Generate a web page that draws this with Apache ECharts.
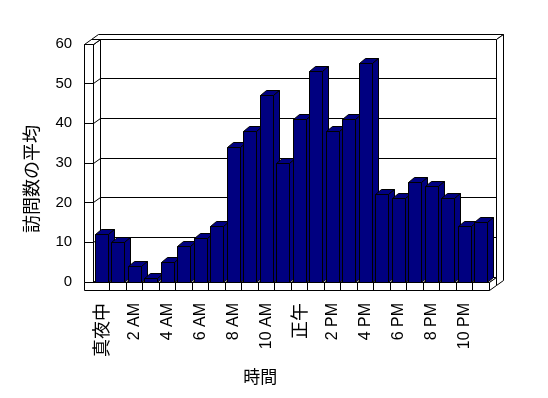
<!DOCTYPE html>
<html><head><meta charset="utf-8">
<script src="https://cdn.jsdelivr.net/npm/echarts@6/dist/echarts.min.js"></script>
<style>html,body{margin:0;padding:0;background:#fff}#c{width:548px;height:398px}</style>
</head><body><div id="c"></div>
<script>
const categories = ['真夜中','1 AM','2 AM','3 AM','4 AM','5 AM','6 AM','7 AM','8 AM','9 AM','10 AM','11 AM',
  '正午','1 PM','2 PM','3 PM','4 PM','5 PM','6 PM','7 PM','8 PM','9 PM','10 PM','11 PM'];
const visits = [12,10,4,1,5,9,11,14,34,38,47,30,41,53,38,41,55,22,21,25,24,21,14,15];
const yTicks = [0,10,20,30,40,50,60];
const yMin = 0, yMax = 60, yStep = 10;
const xTitle = '時間';
const yTitle = '訪問数の平均';

const DX = 7, DY = -5;      // plot depth
const BX = 7, BY = -5;      // back wall thickness
const WALL = 9, FLOOR = 8;  // left wall / floor thickness
const BDX = 6, BDY = -5;    // bar depth
const INK = '#000', BAR = '#000080';

const s = v => Math.round(v - 0.5) + 0.5;
function poly(pts, fill){ return {type:'polygon', shape:{points:pts.map(p=>[s(p[0]),s(p[1])])}, style:{fill:fill||'#fff', stroke:INK, lineWidth:1}}; }
function line(x1,y1,x2,y2){ return {type:'line', shape:{x1:s(x1),y1:s(y1),x2:s(x2),y2:s(y2)}, style:{stroke:INK, lineWidth:1}}; }

function renderBox(params, api){
  const cs = params.coordSys;
  const x0 = cs.x, x1 = cs.x + cs.width;
  const yTop = api.coord([0, yMax])[1], yBase = api.coord([0, yMin])[1];
  const bw = api.size([1,0])[0];
  const ch = [];
  // back wall front face
  ch.push(poly([[x0+DX,yTop+DY],[x1+DX,yTop+DY],[x1+DX,yBase+DY],[x0+DX,yBase+DY]]));
  yTicks.forEach(v=>{ const y = api.coord([0,v])[1]+DY; ch.push(line(x0+DX,y,x1+DX,y)); });
  // back wall top
  ch.push(poly([[x0-WALL+DX,yTop+DY],[x1+DX,yTop+DY],[x1+DX+BX,yTop+DY+BY],[x0-WALL+DX+BX,yTop+DY+BY]]));
  // back wall right face
  ch.push(poly([[x1+DX,yTop+DY],[x1+DX+BX,yTop+DY+BY],[x1+DX+BX,yBase+FLOOR+DY+BY],[x1+DX,yBase+FLOOR+DY]]));
  // left wall inner face
  ch.push(poly([[x0,yTop],[x0+DX,yTop+DY],[x0+DX,yBase+DY],[x0,yBase]]));
  yTicks.forEach(v=>{ const y = api.coord([0,v])[1]; ch.push(line(x0,y,x0+DX,y+DY)); });
  // left wall top
  ch.push(poly([[x0-WALL,yTop],[x0,yTop],[x0+DX,yTop+DY],[x0-WALL+DX,yTop+DY]]));
  // left wall front face
  ch.push(poly([[x0-WALL,yTop],[x0,yTop],[x0,yBase],[x0-WALL,yBase]]));
  yTicks.forEach(v=>{ const y = api.coord([0,v])[1]; ch.push(line(x0-WALL,y,x0,y)); });
  // floor top face
  ch.push(poly([[x0,yBase],[x1,yBase],[x1+DX,yBase+DY],[x0+DX,yBase+DY]]));
  // floor front face
  ch.push(poly([[x0-WALL,yBase],[x1,yBase],[x1,yBase+FLOOR],[x0-WALL,yBase+FLOOR]]));
  for(let i=1;i<categories.length;i++){
    const x = api.coord([i,0])[0] - bw/2;
    ch.push(line(x,yBase,x+DX,yBase+DY));
    ch.push(line(x,yBase,x,yBase+FLOOR));
  }
  // floor right face
  ch.push(poly([[x1,yBase],[x1+DX,yBase+DY],[x1+DX,yBase+FLOOR+DY],[x1,yBase+FLOOR]]));
  return {type:'group', children:ch};
}

function renderBar(params, api){
  const idx = api.value(0), v = api.value(1);
  const base = api.coord([idx, 0]), top = api.coord([idx, v]);
  const bw = api.size([1,0])[0];
  const l = base[0] - bw*0.39, r = l + bw*0.805;
  const yb = base[1], yt = top[1];
  return {type:'group', children:[
    poly([[l,yt],[r,yt],[r,yb],[l,yb]], BAR),
    poly([[l,yt],[r,yt],[r+BDX,yt+BDY],[l+BDX,yt+BDY]], BAR),
    poly([[r,yt],[r+BDX,yt+BDY],[r+BDX,yb+BDY],[r,yb]], BAR)
  ]};
}

const chart = echarts.init(document.getElementById('c'), null, {renderer:'canvas'});
chart.setOption({
  animation:false,
  backgroundColor:'#fff',
  grid:{left:93.2, right:58.8, top:44, bottom:116, containLabel:false},
  xAxis:{type:'category', data:categories,
    axisLine:{show:false}, axisTick:{show:false}, splitLine:{show:false},
    axisLabel:{interval:1, rotate:90, margin:21, color:INK, fontSize:16,
      fontFamily:'"Liberation Sans","Noto Sans CJK JP",sans-serif',
      formatter: v => /[^\x00-\x7F]/.test(v) ? '{c|'+v+'}' : v,
      rich:{c:{fontSize:18, fontFamily:'"Noto Sans CJK JP",sans-serif', color:INK}}},
    name:xTitle, nameLocation:'middle', nameGap:86, nameMoveOverlap:false,
    nameTextStyle:{fontSize:17, color:INK, fontFamily:'"Noto Sans CJK JP",sans-serif', padding:[0,62,0,0]}
  },
  yAxis:{type:'value', min:yMin, max:yMax, interval:yStep,
    axisLine:{show:false}, axisTick:{show:false}, splitLine:{show:false},
    axisLabel:{margin:21, color:INK, fontSize:15, fontFamily:'"Liberation Sans",sans-serif'},
    name:yTitle, nameLocation:'middle', nameGap:53, nameRotate:90, nameMoveOverlap:false,
    nameTextStyle:{fontSize:18, color:INK, fontFamily:'"Noto Sans CJK JP",sans-serif', padding:[0,32,0,0]}
  },
  series:[
    {type:'custom', renderItem:renderBox, data:[[0,0]], encode:{x:0,y:1}, z:1, silent:true, clip:false},
    {type:'custom', renderItem:renderBar, data:visits.map((v,i)=>[i,v]), encode:{x:0,y:1}, z:2, clip:false}
  ]
});
</script>
</body></html>
